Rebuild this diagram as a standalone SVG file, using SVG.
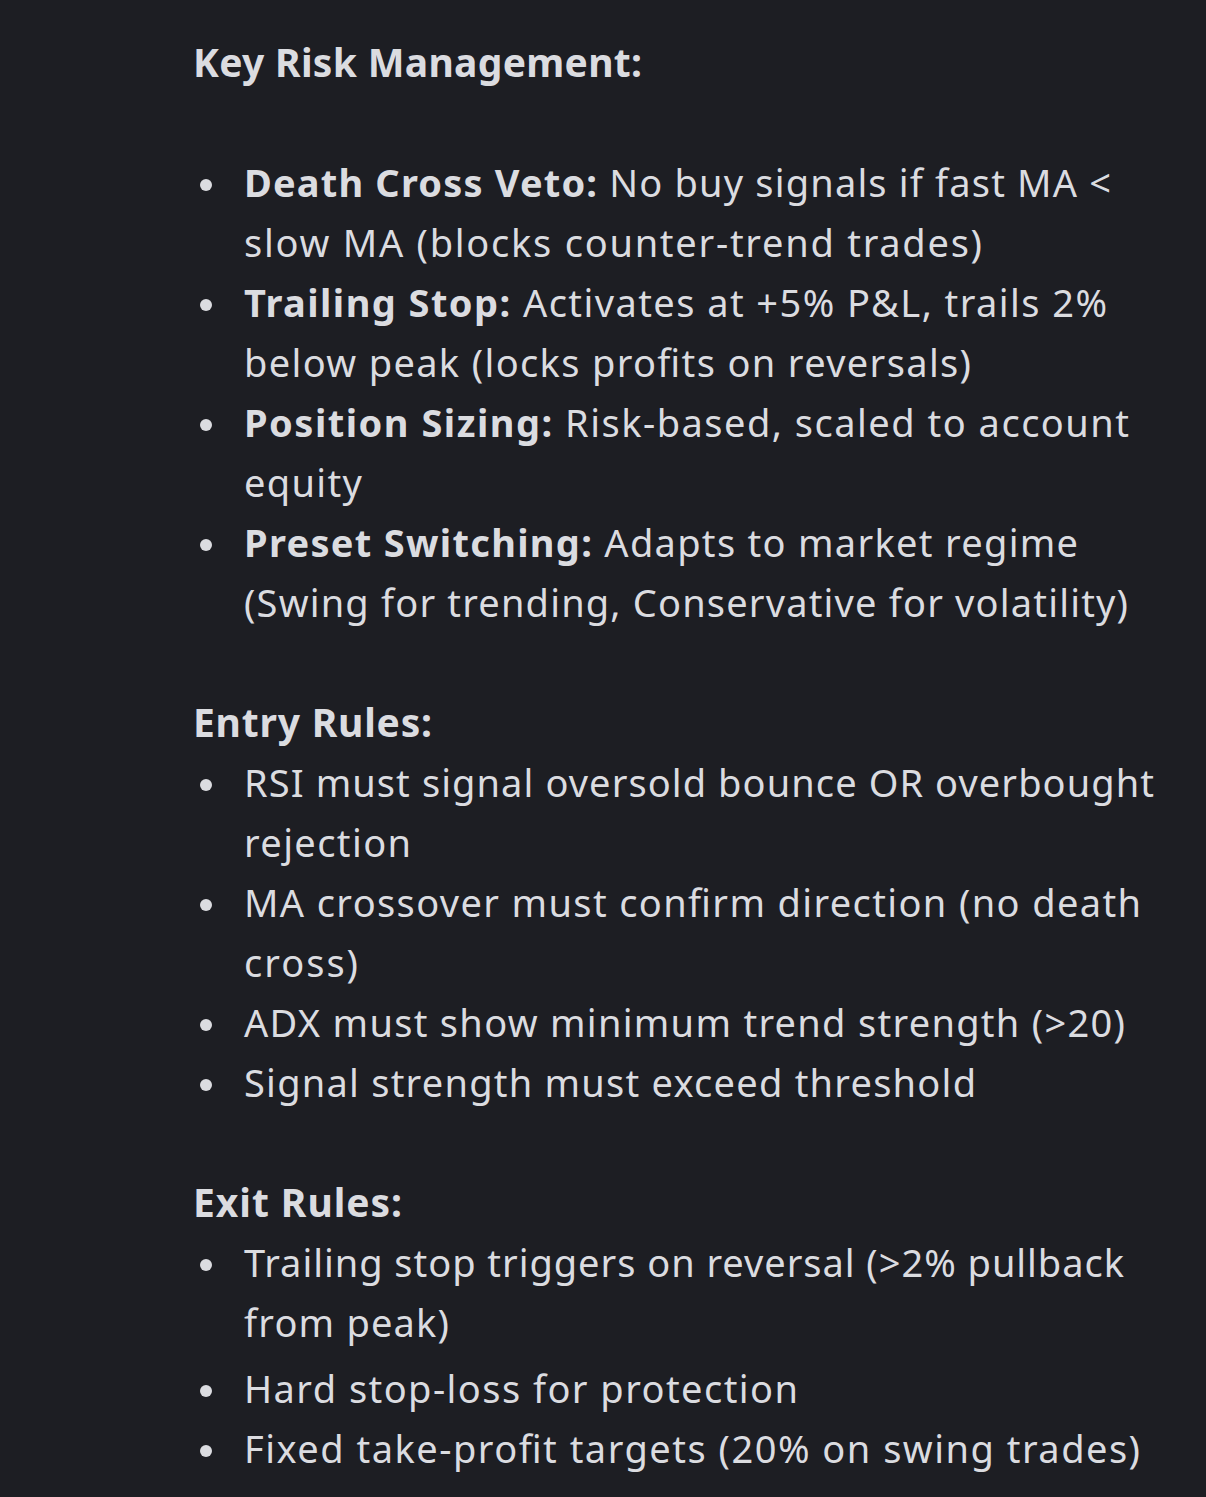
<svg xmlns="http://www.w3.org/2000/svg" width="1206" height="1497" viewBox="0 0 1206 1497">
<style>
text{font-family:"Noto Sans","Open Sans",sans-serif;fill:#dbdce0;font-size:38px}
.h{font-weight:bold;font-size:39px}
.b{font-weight:bold}
circle{fill:#dbdce0}
</style>
<rect width="1206" height="1497" fill="#1d1e23"/>
<g id="risk">
<text class="h" x="193" y="77" textLength="449" lengthAdjust="spacing">Key Risk Management:</text>
<circle cx="206" cy="185" r="6"/>
<text x="244" y="197" textLength="867" lengthAdjust="spacing"><tspan class="b">Death Cross Veto:</tspan> No buy signals if fast MA &lt;</text>
<text x="244" y="257" textLength="738" lengthAdjust="spacing">slow MA (blocks counter-trend trades)</text>
<circle cx="206" cy="305" r="6"/>
<text x="244" y="317" textLength="863" lengthAdjust="spacing"><tspan class="b">Trailing Stop:</tspan> Activates at +5% P&amp;L, trails 2%</text>
<text x="244" y="377" textLength="727" lengthAdjust="spacing">below peak (locks profits on reversals)</text>
<circle cx="206" cy="425" r="6"/>
<text x="244" y="437" textLength="885" lengthAdjust="spacing"><tspan class="b">Position Sizing:</tspan> Risk-based, scaled to account</text>
<text x="244" y="497" textLength="118" lengthAdjust="spacing">equity</text>
<circle cx="206" cy="545" r="6"/>
<text x="244" y="557" textLength="834" lengthAdjust="spacing"><tspan class="b">Preset Switching:</tspan> Adapts to market regime</text>
<text x="244" y="617" textLength="884" lengthAdjust="spacing">(Swing for trending, Conservative for volatility)</text>
</g>
<g id="entry">
<text class="h" x="193" y="737" textLength="239" lengthAdjust="spacing">Entry Rules:</text>
<circle cx="206" cy="785" r="6"/>
<text x="244" y="797" textLength="910" lengthAdjust="spacing">RSI must signal oversold bounce OR overbought</text>
<text x="244" y="857" textLength="167" lengthAdjust="spacing">rejection</text>
<circle cx="206" cy="905" r="6"/>
<text x="244" y="917" textLength="897" lengthAdjust="spacing">MA crossover must confirm direction (no death</text>
<text x="244" y="977" textLength="114" lengthAdjust="spacing">cross)</text>
<circle cx="206" cy="1025" r="6"/>
<text x="244" y="1037" textLength="881" lengthAdjust="spacing">ADX must show minimum trend strength (&gt;20)</text>
<circle cx="206" cy="1085" r="6"/>
<text x="244" y="1097" textLength="732" lengthAdjust="spacing">Signal strength must exceed threshold</text>
</g>
<g id="exit">
<text class="h" x="193" y="1217" textLength="209" lengthAdjust="spacing">Exit Rules:</text>
<circle cx="206" cy="1265" r="6"/>
<text x="244" y="1277" textLength="880" lengthAdjust="spacing">Trailing stop triggers on reversal (&gt;2% pullback</text>
<text x="244" y="1337" textLength="205" lengthAdjust="spacing">from peak)</text>
<circle cx="206" cy="1391" r="6"/>
<text x="244" y="1403" textLength="554" lengthAdjust="spacing">Hard stop-loss for protection</text>
<circle cx="206" cy="1451" r="6"/>
<text x="244" y="1463" textLength="896" lengthAdjust="spacing">Fixed take-profit targets (20% on swing trades)</text>
</g>
</svg>
